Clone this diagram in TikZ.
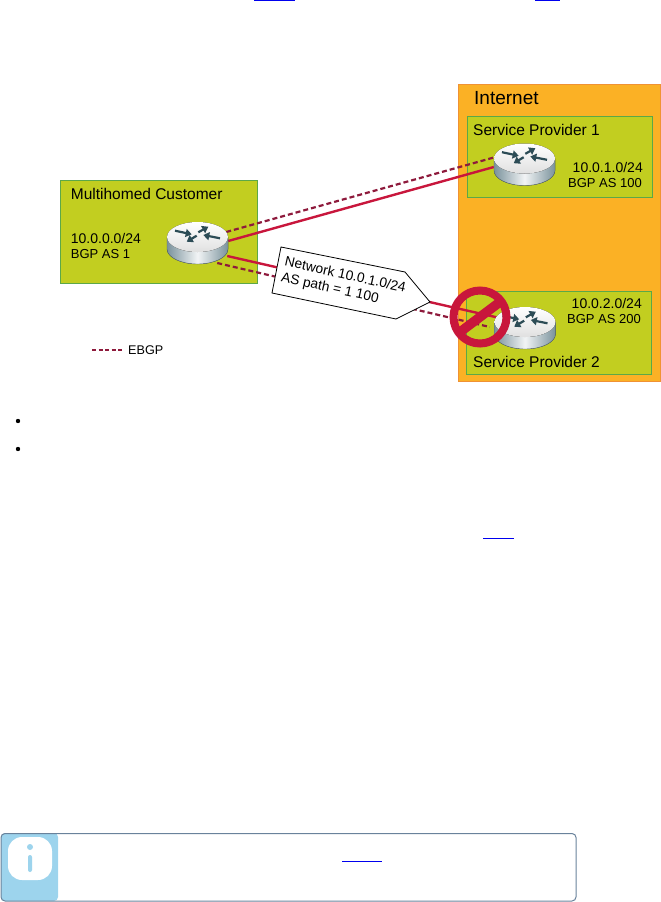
\documentclass[tikz,border=0pt]{standalone}
\usepackage{fontspec}
\setmainfont{Liberation Sans}
\usepackage{tikz}
\usetikzlibrary{arrows.meta,calc,positioning}
\definecolor{limefill}{RGB}{194,206,32}
\definecolor{limeedge}{RGB}{92,168,72}
\definecolor{orangefill}{RGB}{251,177,37}
\definecolor{orangeedge}{RGB}{240,146,52}
\definecolor{linkred}{RGB}{200,22,60}
\definecolor{ebgpred}{RGB}{142,26,60}
\definecolor{noteblue}{RGB}{157,212,237}
\definecolor{noteedge}{RGB}{105,130,155}
\definecolor{routerarrow}{RGB}{44,76,86}
\definecolor{routerdark}{RGB}{122,146,156}
\definecolor{urlblue}{RGB}{0,0,238}
\tikzset{
    router/.pic={
        \fill[left color=routerdark, right color=routerdark, middle color=white!90!routerdark]
            (-30.5,-6) -- (-30.5,6) arc[start angle=180, end angle=0, x radius=30.5, y radius=15]
            -- (30.5,-6) -- cycle;
        \draw[routerdark!70!black, line width=0.4pt] (-30.5,-6) -- (-30.5,6)
            arc[start angle=180, end angle=0, x radius=30.5, y radius=15] -- (30.5,-6);
        \fill[top color=white, bottom color=black!12] (0,-6) ellipse[x radius=30.5, y radius=15];
        \foreach \ax/\ay/\bx/\by in {-22.5/-12.3/-5.8/-8.7, -0.8/-7.3/-10.8/-1.3,
                0.8/-10.7/10.8/-16.3, 22.5/-4.7/5.8/-8}
            \draw[routerarrow, line width=2.2pt, -{Triangle[length=6pt,width=8pt]}]
                (\ax,\ay) -- (\bx,\by);
    }
}
\begin{document}
\begin{tikzpicture}[
    x=1pt, y=-1pt,
    zonebox/.style={draw=limeedge, fill=limefill, line width=1pt},
    cloudbox/.style={draw=orangeedge, fill=orangefill, line width=1pt},
    routernode/.style={minimum width=61pt, minimum height=42pt, inner sep=0pt},
    titletext/.style={anchor=west, inner sep=0pt, font=\fontsize{15.5}{18}\selectfont},
    addrtext/.style={inner sep=0pt, font=\fontsize{14}{16}\selectfont},
    astext/.style={inner sep=0pt, font=\fontsize{13}{16}\selectfont},
    ebgpline/.style={draw=ebgpred, line width=2.2pt, dash pattern=on 5pt off 3pt},
    physline/.style={draw=linkred, line width=2.4pt},
    urlmark/.style={fill=urlblue},
    >=Stealth
]
\useasboundingbox (0,0) rectangle (661,902);
\fill[urlmark] (254,0) rectangle (295,1);
\fill[urlmark] (535,0) rectangle (560,1);
\fill[urlmark] (483,537.5) rectangle (514,538.5);
\fill[urlmark] (342,860.5) rectangle (382,861.5);

\draw[cloudbox] (458,84) rectangle (660,381);
\draw[zonebox] (60,180) rectangle (257,283);
\draw[zonebox] (467,116) rectangle (652,197);
\draw[zonebox] (466,291) rectangle (651,374);

\node[routernode] (custrouter) at (197.5,243) {};
\node[routernode] (sponerouter) at (524.5,164.5) {};
\node[routernode] (sptworouter) at (525,328) {};

\draw[physline] ([shift={(0,-2)}]custrouter.east) -- ([shift={(0,2.5)}]sponerouter.west);
\draw[ebgpline] ([shift={(-2,-11)}]custrouter.east) -- ([shift={(0,-7)}]sponerouter.west);
\draw[physline] ([shift={(-1,13)}]custrouter.east) -- ([shift={(5.5,-10)}]sptworouter.west);
\draw[ebgpline] ([shift={(-11,20)}]custrouter.east) -- ([shift={(-4.5,-1)}]sptworouter.west);

\pic at (custrouter) {router};
\pic at (sponerouter) {router};
\pic at (sptworouter) {router};

\node[titletext] (custname) at (70.7,194) {Multihomed Customer};
\node[addrtext, anchor=west] (custaddr) at (70.7,238) {10.0.0.0/24};
\node[astext, anchor=west] (custas) at (70.7,254) {BGP AS 1};
\node[titletext, font=\fontsize{19}{22}\selectfont] (inetname) at (474,98) {Internet};
\node[titletext] (sponename) at (473,130) {Service Provider 1};
\node[addrtext, anchor=east] (sponeaddr) at (643,167) {10.0.1.0/24};
\node[astext, anchor=east] (sponeas) at (642,183) {BGP AS 100};
\node[addrtext, anchor=east] (sptwoaddr) at (642,303) {10.0.2.0/24};
\node[astext, anchor=east] (sptwoas) at (641,319) {BGP AS 200};
\node[titletext] (sptwoname) at (473,362) {Service Provider 2};

\draw[fill=white, line width=0.8pt] (281,247) -- (405,272) -- (430,302) -- (396,319) -- (272,293) -- cycle;
\node[rotate=-12.5, align=left, inner sep=0pt, font=\fontsize{13.8}{16}\selectfont] (tagtext) at (343.5,283.5)
    {Network 10.0.1.0/24\\AS path = 1 100};

\node[circle, draw=linkred, line width=8pt, minimum size=53pt, inner sep=0pt, outer sep=0pt] (blocked) at (480,317) {};
\draw[linkred, line width=9.5pt] (blocked.217) -- (blocked.37);

\node[anchor=west, inner sep=0pt, font=\fontsize{12.6}{15}\selectfont] (ebgplabel) at (128,350) {EBGP};
\coordinate (ebgpstart) at (92,350);
\draw[ebgpline, line width=1.6pt, dash pattern=on 4pt off 2.5pt] (ebgpstart) -- ([xshift=-5pt]ebgplabel.west);

\fill (18,421) circle[radius=2.2];
\fill (18,449) circle[radius=2.2];

\fill[noteblue, rounded corners=4pt] (1,833) -- (58,833) -- (58,901) -- (1,901) -- cycle;
\draw[noteedge, line width=1pt, rounded corners=4pt] (1,833.5) rectangle (576,901);
\fill[white, rounded corners=14pt] (8,837) rectangle (52,880);
\fill[noteblue] (30,847) circle[radius=3];
\fill[noteblue, rounded corners=2pt] (28,855) rectangle (32,872);
\end{tikzpicture}
\end{document}
